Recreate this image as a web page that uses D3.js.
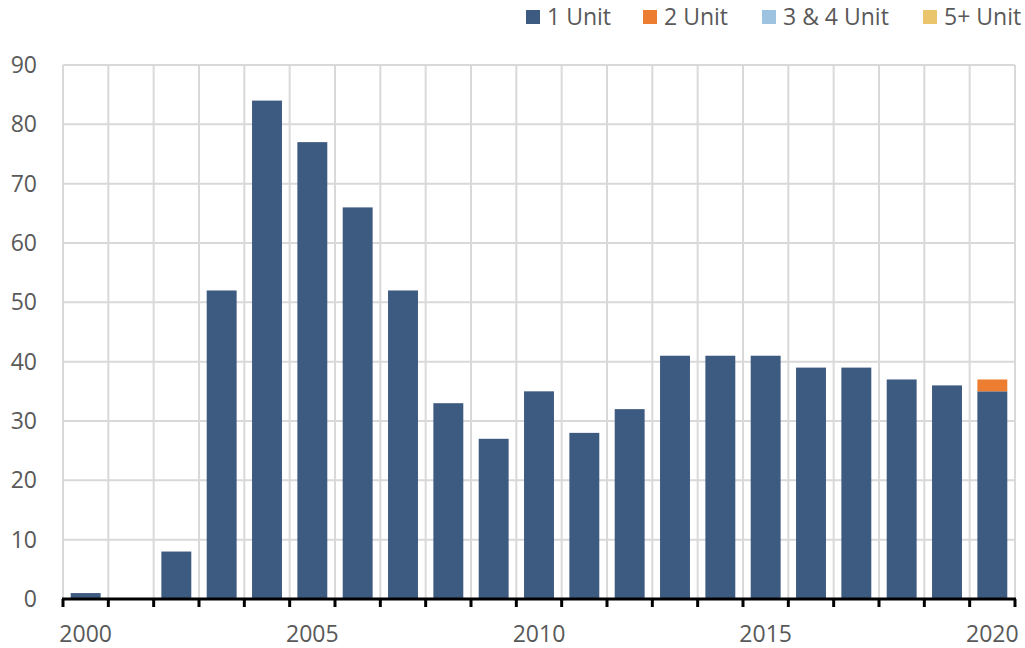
<!DOCTYPE html>
<html>
<head>
<meta charset="utf-8">
<script src="https://d3js.org/d3.v7.min.js"></script>
<style>
  body { margin: 0; background: #fff; }
  text { font-family: "Open Sans", sans-serif; fill: #595959; }
</style>
</head>
<body>
<div id="chart"></div>
<script>
var years = d3.range(2000, 2021);
var oneUnit = [1, 0, 8, 52, 84, 77, 66, 52, 33, 27, 35, 28, 32, 41, 41, 41, 39, 39, 37, 36, 35];
var twoUnit = [0, 0, 0, 0, 0, 0, 0, 0, 0, 0, 0, 0, 0, 0, 0, 0, 0, 0, 0, 0, 2];
var threeFourUnit = [0, 0, 0, 0, 0, 0, 0, 0, 0, 0, 0, 0, 0, 0, 0, 0, 0, 0, 0, 0, 0];
var fivePlusUnit = [0, 0, 0, 0, 0, 0, 0, 0, 0, 0, 0, 0, 0, 0, 0, 0, 0, 0, 0, 0, 0];
var seriesNames = ["1 Unit", "2 Unit", "3 & 4 Unit", "5+ Unit"];
var colors = ["#3d5a80", "#ed7d31", "#9dc3e0", "#eac56b"];
var yTicks = [0, 10, 20, 30, 40, 50, 60, 70, 80, 90];
var xLabels = [2000, 2005, 2010, 2015, 2020];

var w = 1025, h = 648;
var plotLeft = 63, plotRight = 1015, plotTop = 65, plotBottom = 599;
var fontSize = "23px";

var svg = d3.select("#chart").append("svg")
  .attr("width", w)
  .attr("height", h);

var rows = years.map(function(y, i) {
  return { year: y, s0: oneUnit[i], s1: twoUnit[i], s2: threeFourUnit[i], s3: fivePlusUnit[i] };
});
var stack = d3.stack().keys(["s0", "s1", "s2", "s3"])(rows);

var x = d3.scaleBand()
  .domain(years)
  .range([plotLeft, plotRight])
  .paddingInner(0.34)
  .paddingOuter(0.17);

var y = d3.scaleLinear()
  .domain([0, 90])
  .range([plotBottom, plotTop]);

// horizontal gridlines
svg.append("g")
  .selectAll("line")
  .data(yTicks)
  .enter()
  .append("line")
  .attr("x1", plotLeft)
  .attr("x2", plotRight)
  .attr("y1", function(d) { return y(d); })
  .attr("y2", function(d) { return y(d); })
  .attr("stroke", "#d9d9d9")
  .attr("stroke-width", 2);

// vertical gridlines at band edges
var step = x.step();
var edges = d3.range(years.length + 1).map(function(i) { return plotLeft + i * step; });
svg.append("g")
  .selectAll("line")
  .data(edges)
  .enter()
  .append("line")
  .attr("x1", function(d) { return d; })
  .attr("x2", function(d) { return d; })
  .attr("y1", plotTop)
  .attr("y2", plotBottom)
  .attr("stroke", "#d9d9d9")
  .attr("stroke-width", 2);

// bars
svg.append("g")
  .selectAll("g")
  .data(stack)
  .enter()
  .append("g")
  .attr("fill", function(d, i) { return colors[i]; })
  .selectAll("rect")
  .data(function(d) { return d.filter(function(p) { return p[1] - p[0] > 0; }); })
  .enter()
  .append("rect")
  .attr("x", function(d) { return x(d.data.year); })
  .attr("width", x.bandwidth())
  .attr("y", function(d) { return y(d[1]); })
  .attr("height", function(d) { return y(d[0]) - y(d[1]); });

// y axis labels
svg.append("g")
  .selectAll("text")
  .data(yTicks)
  .enter()
  .append("text")
  .attr("x", 37)
  .attr("y", function(d) { return y(d); })
  .attr("dy", "0.35em")
  .attr("text-anchor", "end")
  .style("font-size", fontSize)
  .text(function(d) { return d; });

// x axis line and ticks
svg.append("line")
  .attr("x1", plotLeft - 1)
  .attr("x2", plotRight + 1)
  .attr("y1", plotBottom)
  .attr("y2", plotBottom)
  .attr("stroke", "#000")
  .attr("stroke-width", 3);

svg.append("g")
  .selectAll("line")
  .data(edges)
  .enter()
  .append("line")
  .attr("x1", function(d) { return d; })
  .attr("x2", function(d) { return d; })
  .attr("y1", plotBottom)
  .attr("y2", plotBottom + 8)
  .attr("stroke", "#000")
  .attr("stroke-width", 3);

svg.append("g")
  .selectAll("text")
  .data(xLabels)
  .enter()
  .append("text")
  .attr("x", function(d) { return x(d) + x.bandwidth() / 2; })
  .attr("y", 642)
  .attr("text-anchor", "middle")
  .style("font-size", fontSize)
  .text(function(d) { return d; });

// legend
var legendX = [526, 643, 762, 923];
var legend = svg.append("g")
  .selectAll("g")
  .data(seriesNames)
  .enter()
  .append("g")
  .attr("transform", function(d, i) { return "translate(" + legendX[i] + ",10)"; });

legend.append("rect")
  .attr("width", 14)
  .attr("height", 14)
  .attr("fill", function(d, i) { return colors[i]; });

legend.append("text")
  .attr("x", 21)
  .attr("y", 7)
  .attr("dy", "0.35em")
  .style("font-size", fontSize)
  .text(function(d) { return d; });
</script>
</body>
</html>
